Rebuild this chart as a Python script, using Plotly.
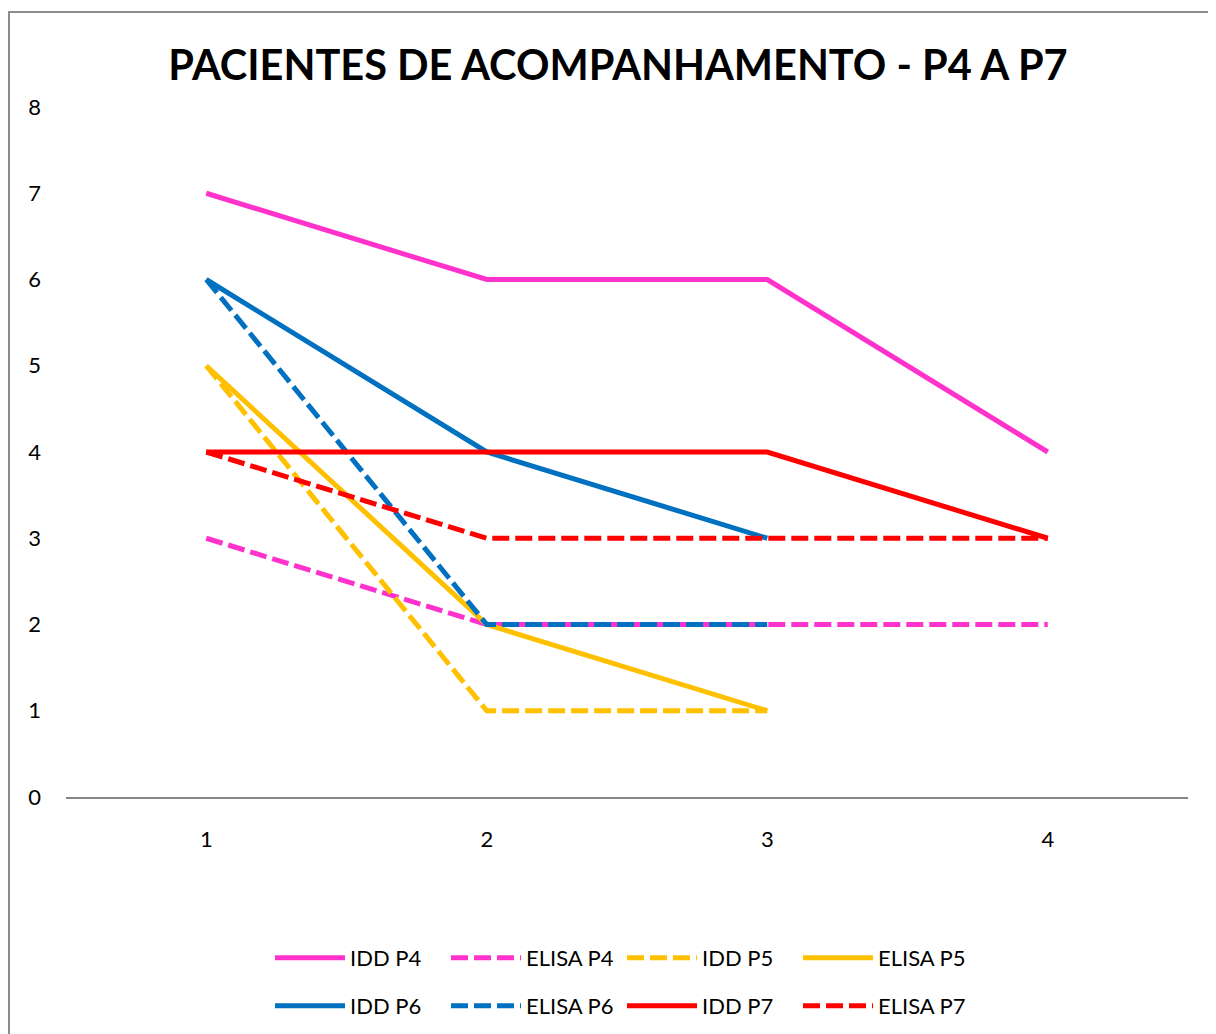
import plotly.graph_objects as go

categories = [1, 2, 3, 4]
idd_p4 = [7, 6, 6, 4]
elisa_p4 = [3, 2, 2, 2]
idd_p5 = [5, 1, 1, None]
elisa_p5 = [5, 2, 1, None]
idd_p6 = [6, 4, 3, None]
elisa_p6 = [6, 2, 2, None]
idd_p7 = [4, 4, 4, 3]
elisa_p7 = [4, 3, 3, 3]
y_ticks = [0, 1, 2, 3, 4, 5, 6, 7, 8]

MAGENTA = "#FF33CC"
YELLOW = "#FFC000"
BLUE = "#0070C0"
RED = "#FF0000"
DASH = "17px,6px"
FONT = "Lato, Open Sans, sans-serif"

series = [
    ("IDD P4", idd_p4, MAGENTA, "solid", "legend"),
    ("ELISA P4", elisa_p4, MAGENTA, DASH, "legend"),
    ("IDD P5", idd_p5, YELLOW, DASH, "legend"),
    ("ELISA P5", elisa_p5, YELLOW, "solid", "legend"),
    ("IDD P6", idd_p6, BLUE, "solid", "legend2"),
    ("ELISA P6", elisa_p6, BLUE, DASH, "legend2"),
    ("IDD P7", idd_p7, RED, "solid", "legend2"),
    ("ELISA P7", elisa_p7, RED, DASH, "legend2"),
]

fig = go.Figure()
for name, vals, color, dash, lg in series:
    fig.add_trace(go.Scatter(
        x=categories, y=vals, name=name, mode="lines",
        line=dict(color=color, width=5, dash=dash),
        legend=lg, connectgaps=False,
    ))

# page body adds an 8px offset; positions below are in figure pixels
OFF = 8
W, H = 1216, 1034
L = 66 - OFF
T = 107 - OFF
R = W - (1188 - OFF)
B = H - (797 - OFF)
pw, ph = W - L - R, H - T - B

def px_to_paper_x(px):
    return (px - OFF - L) / pw

def px_to_paper_y(py):
    return (H - B - (py - OFF)) / ph

legend_common = dict(
    orientation="h", xanchor="left", yanchor="middle",
    font=dict(family=FONT, size=22, color="#000000"),
    entrywidth=91, entrywidthmode="pixels", itemwidth=70,
    bgcolor="rgba(0,0,0,0)", borderwidth=0,
)

fig.update_layout(
    width=W, height=H,
    margin=dict(l=L, r=R, t=T, b=B, autoexpand=False),
    paper_bgcolor="white", plot_bgcolor="white",
    title=dict(
        text="<b>PACIENTES DE ACOMPANHAMENTO - P4 A P7</b>",
        x=(618 - OFF) / W, xanchor="center", xref="container",
        y=1 - (65 - OFF) / H, yanchor="middle", yref="container",
        font=dict(family=FONT, size=41.5, color="#000000"),
    ),
    xaxis=dict(
        range=[0.5, 4.5], tickvals=categories, ticktext=[str(c) for c in categories],
        showgrid=False, zeroline=False, showline=True, linecolor="#868686", linewidth=2,
        ticks="", ticklabelstandoff=22,
        tickfont=dict(family=FONT, size=22, color="#000000"),
    ),
    yaxis=dict(
        range=[0, 8], tickvals=y_ticks,
        showgrid=False, zeroline=False, showline=False,
        ticks="", ticklabelstandoff=24,
        tickfont=dict(family=FONT, size=22, color="#000000"),
    ),
    legend=dict(x=px_to_paper_x(270), y=px_to_paper_y(958), **legend_common),
    legend2=dict(x=px_to_paper_x(270), y=px_to_paper_y(1006), **legend_common),
    showlegend=True,
    shapes=[dict(
        type="rect", xref="paper", yref="paper",
        x0=px_to_paper_x(9), x1=px_to_paper_x(1240),
        y0=px_to_paper_y(1060), y1=px_to_paper_y(12),
        line=dict(color="#8C8C8C", width=2), fillcolor="rgba(0,0,0,0)", layer="below",
    )],
)

fig.write_html("out.html")
